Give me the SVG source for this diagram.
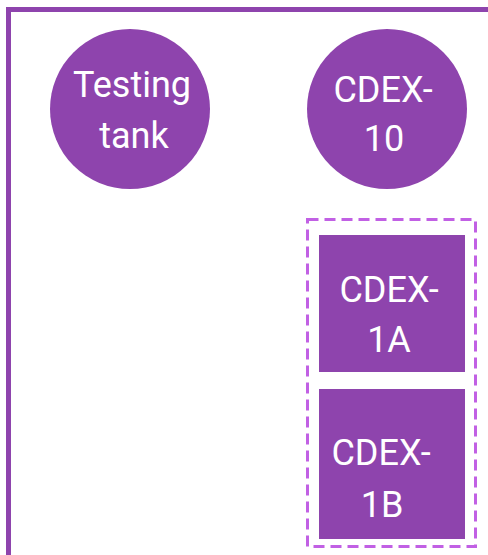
<svg xmlns="http://www.w3.org/2000/svg" width="488" height="555" viewBox="0 0 488 555">
<style>
.n{fill:#8E44AD}
.t{fill:#fff;font-family:Roboto,"Liberation Sans",sans-serif;font-size:36px;text-anchor:middle}
</style>
<rect width="488" height="555" fill="#fff"/>
<g id="frame"><path d="M8.5 560 V9.5 H495" fill="none" stroke="#8E44AD" stroke-width="5"/></g>
<g id="testing-tank">
<circle class="n" cx="130" cy="109" r="80"/>
<text class="t" x="132" y="97">Testing</text>
<text class="t" x="134" y="148">tank</text>
</g>
<g id="cdex-10">
<circle class="n" cx="387" cy="109" r="80"/>
<text class="t" x="383" y="102">CDEX-</text>
<text class="t" x="384" y="151">10</text>
</g>
<g id="cdex-1-group">
<rect x="307.5" y="219.5" width="168" height="327" fill="none" stroke="#C160E4" stroke-width="3" stroke-dasharray="11 6"/>
</g>
<g id="cdex-1a">
<rect class="n" x="319" y="235" width="146" height="137"/>
<text class="t" x="389" y="302">CDEX-</text>
<text class="t" x="389" y="352">1A</text>
</g>
<g id="cdex-1b">
<rect class="n" x="319" y="389" width="146" height="150"/>
<text class="t" x="381" y="465">CDEX-</text>
<text class="t" x="382" y="517">1B</text>
</g>
<g id="connectors"/>
</svg>
